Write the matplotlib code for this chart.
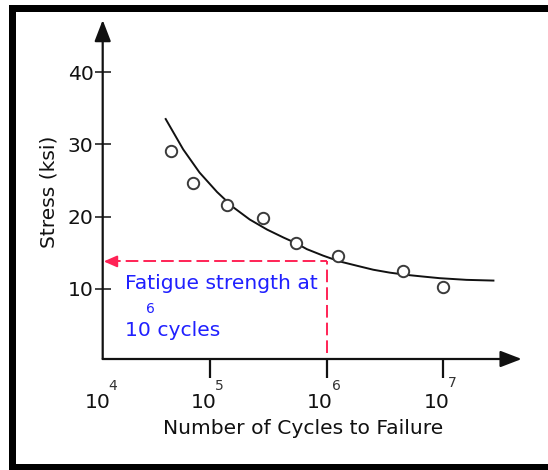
import matplotlib
matplotlib.use("Agg")
import matplotlib.pyplot as plt
from matplotlib.patches import Rectangle
import numpy as np

# ---- data ----
test_cycles = [4.6e4, 7.1e4, 1.39e5, 2.87e5, 5.43e5, 1.26e6, 4.49e6, 1.0e7]
test_stress = [29.1, 24.7, 21.6, 19.8, 16.4, 14.6, 12.5, 10.3]

curve_cycles = [4.17e4, 5.89e4, 8.13e4, 1.15e5, 1.58e5, 2.19e5, 3.09e5, 4.27e5,
                5.50e5, 6.76e5, 9.33e5, 1.29e6, 1.82e6, 2.51e6, 3.47e6, 4.90e6,
                6.76e6, 9.33e6, 1.58e7, 2.69e7]
curve_stress = [33.5, 29.3, 26.1, 23.4, 21.3, 19.6, 18.2, 17.1,
                16.3, 15.5, 14.6, 13.8, 13.2, 12.65, 12.25, 11.93,
                11.7, 11.48, 11.25, 11.15]

y_ticks = [10, 20, 30, 40]
x_tick_exponents = [4, 5, 6, 7]

fatigue_cycles = 1e6
fatigue_strength = 13.8

W, H = 548, 470
fig = plt.figure(figsize=(W / 100, H / 100), dpi=100)
fig.patch.set_facecolor("white")

def fx(px):
    return px / W

def fy(py):
    return (H - py) / H

FS = 14.6
FS_SUP = 10

# frame (left, top, bottom bars)
for (x0, y0, x1, y1) in [(8.5, 4.5, 16, 470), (8.5, 4.5, 548, 12), (8.5, 464.3, 548, 470)]:
    fig.patches.append(Rectangle((fx(x0), fy(y1)), fx(x1) - fx(x0), fy(y0) - fy(y1),
                                 transform=fig.transFigure, facecolor="black",
                                 edgecolor="none", zorder=0))

ax_l, ax_r, ax_b, ax_t = 102.7, 521.7, 359.0, 20.0
ax = fig.add_axes([fx(ax_l), fy(ax_b), fx(ax_r) - fx(ax_l), fy(ax_t) - fy(ax_b)])
ax.set_xscale("log")
ax.set_xlim(10 ** 4.0802, 10 ** 7.672)
ax.set_ylim(0.30, 47.2)
ax.patch.set_alpha(0)
for s in ax.spines.values():
    s.set_visible(False)

ink = "#111111"
# axis arrows
arrow_kw = dict(arrowstyle="-|>,head_length=13,head_width=5", color=ink, lw=1.6,
                shrinkA=0, shrinkB=0, mutation_scale=1)
ax.annotate("", xy=(1, 0), xytext=(0, 0), xycoords="axes fraction",
            arrowprops=arrow_kw, annotation_clip=False)
ax.annotate("", xy=(0, 1), xytext=(0, 0), xycoords="axes fraction",
            arrowprops=arrow_kw, annotation_clip=False)

# y ticks
ax.set_yticks(y_ticks)
ax.set_yticklabels([str(v) for v in y_ticks], fontsize=FS, color=ink)
ax.tick_params(axis="y", direction="inout", length=11, width=1.1, color=ink, pad=1)

# x ticks (marks only)
tick_vals = [10.0 ** e for e in x_tick_exponents if 10.0 ** e > ax.get_xlim()[0]]
ax.set_xticks(tick_vals)
ax.xaxis.set_minor_locator(matplotlib.ticker.NullLocator())
ax.tick_params(axis="x", direction="out", length=13.5, width=1.6, color=ink,
               labelbottom=False)

# x tick labels 10^n
for e in x_tick_exponents:
    xv = 10.0 ** e
    if xv < ax.get_xlim()[0]:
        xv = ax.get_xlim()[0]
        base_dx, sup_dx = -4.7, 10.0
    else:
        base_dx, sup_dx = -6.6, 9.4
    ax.annotate("10", xy=(xv, 0), xycoords=("data", "axes fraction"),
                xytext=(base_dx, -43), textcoords="offset pixels",
                ha="center", va="center", fontsize=FS, color=ink,
                annotation_clip=False)
    ax.annotate(str(e), xy=(xv, 0), xycoords=("data", "axes fraction"),
                xytext=(sup_dx, -27 if e != 7 else -24), textcoords="offset pixels",
                ha="center", va="center", fontsize=FS_SUP, color="#333333",
                annotation_clip=False)

# axis titles
fig.text(fx(303), fy(429), "Number of Cycles to Failure", ha="center", va="center",
         fontsize=FS, color=ink)
fig.text(fx(49), fy(191.5), "Stress (ksi)", ha="center", va="center",
         rotation=90, fontsize=FS, color=ink)

# curve and test points
ax.plot(curve_cycles, curve_stress, color=ink, lw=1.4, zorder=3)
ax.plot(test_cycles, test_stress, linestyle="none", marker="o", ms=8.2,
        mfc="white", mec="#3a3a3a", mew=1.4, zorder=4)

# fatigue strength indicator
red = "#ff2255"
ax.plot([fatigue_cycles, fatigue_cycles], [1.1, fatigue_strength], color=red, lw=1.4,
        linestyle=(0, (6.5, 2.6)), zorder=2)
ax.plot([ax.get_xlim()[0] * 1.12, fatigue_cycles], [fatigue_strength, fatigue_strength],
        color=red, lw=1.4, linestyle=(0, (6.5, 2.6)), zorder=2)
ax.annotate("", xy=(ax.get_xlim()[0] * 1.02, fatigue_strength),
            xytext=(ax.get_xlim()[0] * 1.15, fatigue_strength),
            arrowprops=dict(arrowstyle="-|>,head_length=8,head_width=3.5", color=red,
                            lw=1.4, shrinkA=0, shrinkB=0, mutation_scale=1),
            annotation_clip=False)

blue = "#2020ff"
fig.text(fx(125), fy(283.3), "Fatigue strength at", ha="left", va="center",
         fontsize=FS, color=blue)
fig.text(fx(150), fy(309), "6", ha="center", va="center", fontsize=FS_SUP, color=blue)
fig.text(fx(125), fy(330.7), "10 cycles", ha="left", va="center", fontsize=FS, color=blue)

fig.savefig("out.png", dpi=100)
